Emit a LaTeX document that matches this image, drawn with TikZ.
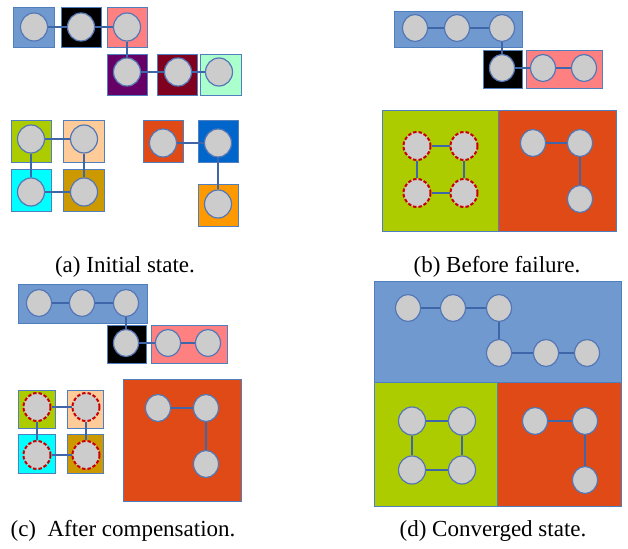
\documentclass[tikz,border=0pt]{standalone}
\usepackage{fontspec}
\setmainfont{Liberation Serif}
\usetikzlibrary{shapes.geometric}

\definecolor{cblue}{HTML}{7099D0}
\definecolor{cpink}{HTML}{FF8080}
\definecolor{cpurple}{HTML}{660066}
\definecolor{cmaroon}{HTML}{800020}
\definecolor{cmint}{HTML}{AAFFCC}
\definecolor{cgreen}{HTML}{ADCC00}
\definecolor{cpeach}{HTML}{FFCC99}
\definecolor{ccyan}{HTML}{00FFFF}
\definecolor{cgold}{HTML}{CC9900}
\definecolor{cred}{HTML}{DF4A16}
\definecolor{croyal}{HTML}{0066CC}
\definecolor{corange}{HTML}{FF9900}
\definecolor{cedge}{HTML}{4F7FBF}
\definecolor{cring}{HTML}{5577B5}
\definecolor{cfill}{HTML}{CCCCCC}
\definecolor{cfail}{HTML}{C80000}
\definecolor{cline}{HTML}{3F66A8}

\tikzset{
  host/.style={ellipse, draw=cring, fill=cfill, line width=1.2pt,
    minimum width=25pt, minimum height=27pt, inner sep=0pt},
  bighost/.style={host, minimum width=27pt, minimum height=28pt},
  lost/.style={bighost, draw=cfail, dash pattern=on 3.5pt off 2pt, line width=2pt},
  conn/.style={draw=cline, line width=1.2pt},
  zone/.style={draw=cedge, line width=0.8pt},
  caption/.style={font=\fontsize{23}{27}\selectfont, inner sep=0pt}
}

\begin{document}
\begin{tikzpicture}[x=1pt,y=-1pt]
    \useasboundingbox (0,0) rectangle (628,548);

    % (a) Начальное состояние
    \filldraw[zone, fill=cblue] (13,7) rectangle (54,47);
    \filldraw[zone, fill=black] (61,7) rectangle (101,47);
    \filldraw[zone, fill=cpink] (107,7) rectangle (147,47);
    \filldraw[zone, fill=cpurple] (107,54) rectangle (147,95);
    \filldraw[zone, fill=cmaroon] (157,54) rectangle (197,95);
    \filldraw[zone, fill=cmint] (200,54) rectangle (241,95);
    \filldraw[zone, fill=cgreen] (11,120) rectangle (51,162);
    \filldraw[zone, fill=cpeach] (63,120) rectangle (104,162);
    \filldraw[zone, fill=ccyan] (11,169) rectangle (51,211);
    \filldraw[zone, fill=cgold] (63,169) rectangle (104,211);
    \filldraw[zone, fill=cred] (143,120) rectangle (183,162);
    \filldraw[zone, fill=croyal] (198,120) rectangle (238,162);
    \filldraw[zone, fill=corange] (198,184) rectangle (238,226);

    \node[bighost] (a1) at (34,27) {};
    \node[bighost] (a2) at (81,27) {};
    \node[bighost] (a3) at (127,27) {};
    \node[bighost] (a4) at (127,72) {};
    \node[bighost] (a5) at (178,72) {};
    \node[bighost] (a6) at (219,72) {};
    \node[bighost] (a7) at (31,139) {};
    \node[bighost] (a8) at (84,139) {};
    \node[bighost] (a9) at (31,192) {};
    \node[bighost] (a10) at (84,192) {};
    \node[bighost] (a11) at (163,143) {};
    \node[bighost] (a12) at (218,143) {};
    \node[bighost] (a13) at (218,204) {};
    \foreach \u/\v in {a1/a2, a2/a3, a3/a4, a4/a5, a5/a6,
        a7/a8, a7/a9, a8/a10, a9/a10, a11/a12, a12/a13}
        \draw[conn] (\u) -- (\v);

    % (b) Перед отказом
    \filldraw[zone, fill=cblue] (394,11) rectangle (522,47);
    \filldraw[zone, fill=black] (483,50) rectangle (522,88);
    \filldraw[zone, fill=cpink] (526,50) rectangle (602,88);
    \filldraw[zone, fill=cgreen] (382,110) rectangle (498,231);
    \filldraw[zone, fill=cred] (498,110) rectangle (616,231);

    \node[host] (b1) at (415,28) {};
    \node[host] (b2) at (457,28) {};
    \node[host] (b3) at (502,28) {};
    \node[host] (b4) at (502,68) {};
    \node[host] (b5) at (543,68) {};
    \node[host] (b6) at (584,68) {};
    \node[lost] (b7) at (417,146) {};
    \node[lost] (b8) at (464,146) {};
    \node[lost] (b9) at (417,193) {};
    \node[lost] (b10) at (464,193) {};
    \node[host] (b11) at (533,143) {};
    \node[host] (b12) at (580,143) {};
    \node[host] (b13) at (580,199) {};
    \foreach \u/\v in {b1/b2, b2/b3, b3/b4, b4/b5, b5/b6,
        b7/b8, b7/b9, b8/b10, b9/b10, b11/b12, b12/b13}
        \draw[conn] (\u) -- (\v);

    % (c) После компенсации
    \filldraw[zone, fill=cblue] (18,284) rectangle (147,323);
    \filldraw[zone, fill=black] (107,325) rectangle (146,363);
    \filldraw[zone, fill=cpink] (151,325) rectangle (227,363);
    \filldraw[zone, fill=cgreen] (18,390) rectangle (55,428);
    \filldraw[zone, fill=cpeach] (67,390) rectangle (103,428);
    \filldraw[zone, fill=ccyan] (18,434) rectangle (55,473);
    \filldraw[zone, fill=cgold] (67,434) rectangle (103,473);
    \filldraw[zone, fill=cred] (123,379) rectangle (241,501);

    \node[host] (c1) at (39,303) {};
    \node[host] (c2) at (82,303) {};
    \node[host] (c3) at (126,303) {};
    \node[host] (c4) at (126,343) {};
    \node[host] (c5) at (168,343) {};
    \node[host] (c6) at (208,343) {};
    \node[lost] (c7) at (37,407) {};
    \node[lost] (c8) at (86,407) {};
    \node[lost] (c9) at (37,455) {};
    \node[lost] (c10) at (86,455) {};
    \node[host] (c11) at (158,408) {};
    \node[host] (c12) at (206,408) {};
    \node[host] (c13) at (206,464) {};
    \foreach \u/\v in {c1/c2, c2/c3, c3/c4, c4/c5, c5/c6,
        c7/c8, c7/c9, c8/c10, c9/c10, c11/c12, c12/c13}
        \draw[conn] (\u) -- (\v);

    % (d) Сошедшееся состояние
    \filldraw[zone, fill=cblue] (374,281) rectangle (621,382);
    \filldraw[zone, fill=cgreen] (374,382) rectangle (497,506);
    \filldraw[zone, fill=cred] (497,382) rectangle (621,506);

    \node[host] (d1) at (408,308) {};
    \node[host] (d2) at (453,308) {};
    \node[host] (d3) at (499,308) {};
    \node[host] (d4) at (499,353) {};
    \node[host] (d5) at (546,353) {};
    \node[host] (d6) at (587,353) {};
    \node[bighost] (d7) at (412,421) {};
    \node[bighost] (d8) at (462,421) {};
    \node[bighost] (d9) at (412,470) {};
    \node[bighost] (d10) at (462,470) {};
    \node[host] (d11) at (535,421) {};
    \node[host] (d12) at (585,421) {};
    \node[host] (d13) at (585,480) {};
    \foreach \u/\v in {d1/d2, d2/d3, d3/d4, d4/d5, d5/d6,
        d7/d8, d7/d9, d8/d10, d9/d10, d11/d12, d12/d13}
        \draw[conn] (\u) -- (\v);

    % Подписи
    \node[caption] (capa) at (125,267) {(a) Initial state.};
    \node[caption] (capb) at (497,267) {(b) Before failure.};
    \node[caption] (capc) at (123,531) {(c)\ \ After compensation.};
    \node[caption] (capd) at (493,531) {(d) Converged state.};
\end{tikzpicture}
\end{document}
